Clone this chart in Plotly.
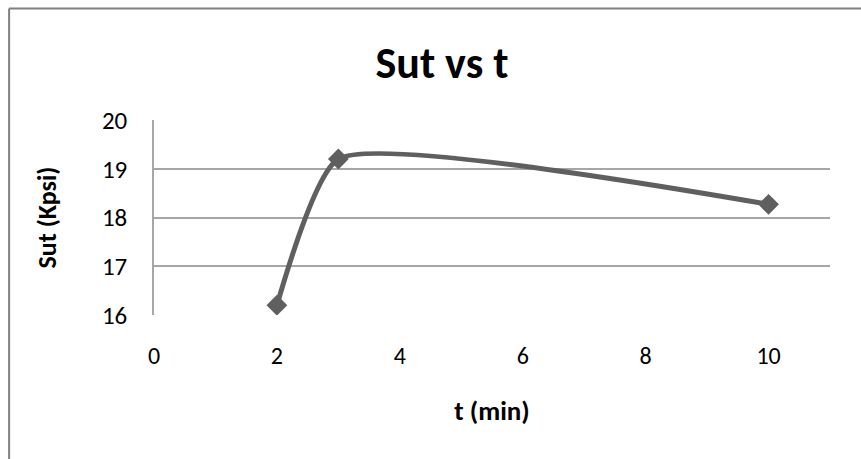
import plotly.graph_objects as go

# Ultimate tensile strength vs. time
t_min = [2, 3, 10]
sut_kpsi = [16.2, 19.2, 18.27]

x_ticks = [0, 2, 4, 6, 8, 10]
y_ticks = [16, 17, 18, 19, 20]

W, H = 861, 459
L, R, T, B = 153.5, 31, 120, 144
pw, ph = W - L - R, H - T - B

def px(xp):
    return (xp - L) / pw

def py(yp):
    return (H - B - yp) / ph

font_family = "Carlito, 'Open Sans', sans-serif"
line_col = "#5f5f5f"
grid_col = "#a6a6a6"

fig = go.Figure()
fig.add_trace(go.Scatter(
    x=t_min, y=sut_kpsi,
    mode="lines+markers",
    line=dict(color=line_col, width=5, shape="spline", smoothing=0.5),
    marker=dict(symbol="diamond", size=16, color=line_col),
    showlegend=False,
    hoverinfo="x+y",
))

fig.update_layout(
    width=W, height=H,
    margin=dict(l=L, r=R, t=T, b=B),
    paper_bgcolor="white",
    plot_bgcolor="white",
    font=dict(family=font_family, color="#000000"),
    title=dict(text="<b>Sut vs t</b>", xref="container", x=442 / W,
               xanchor="center", yref="container", y=1 - 63 / H,
               yanchor="middle",
               font=dict(size=44, family=font_family)),
    xaxis=dict(
        range=[0, 11], tickvals=x_ticks, ticktext=[str(v) for v in x_ticks],
        showgrid=False, zeroline=False, showline=False, ticks="",
        tickfont=dict(size=24, color="#000000"),
        ticklabelstandoff=24,
        title=dict(text="<b>t (min)</b>", font=dict(size=27), standoff=32),
    ),
    yaxis=dict(
        range=[16, 20], tickvals=y_ticks, ticktext=[str(v) for v in y_ticks],
        showgrid=True, gridcolor=grid_col, gridwidth=1.5,
        zeroline=False, showline=True, linecolor=grid_col, linewidth=1.5,
        ticks="", tickfont=dict(size=25, color="#000000"),
        ticklabelstandoff=20,
        title=dict(text="<b>Sut (Kpsi)</b>", font=dict(size=26), standoff=38),
    ),
)

# chart frame: top and left edges
fig.add_shape(type="line", xref="paper", yref="paper",
              x0=px(8.5), x1=px(W + 5), y0=py(8.5), y1=py(8.5),
              line=dict(color="#808080", width=2))
fig.add_shape(type="line", xref="paper", yref="paper",
              x0=px(8.5), x1=px(8.5), y0=py(8.5), y1=py(H + 5),
              line=dict(color="#808080", width=2))

fig.write_html("out.html")
